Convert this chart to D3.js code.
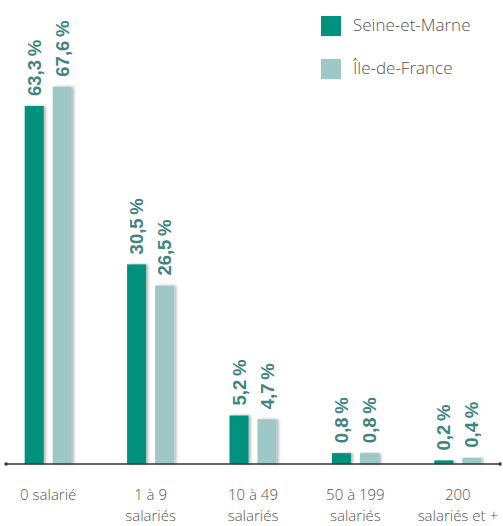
<!DOCTYPE html>
<html>
<head>
<meta charset="utf-8">
<script src="https://cdn.jsdelivr.net/npm/d3@7"></script>
<style>
  body { margin: 0; background: #fff; }
  svg { display: block; }
  .cat text, .key text { font-family: "Open Sans", Roboto, sans-serif; font-weight: 300; fill: #555; }
  .val { font-family: "Liberation Sans", Arial, sans-serif; font-weight: bold; fill: #3f8481; }
</style>
</head>
<body>
<div id="chart"></div>
<script>
const categories = [["0 salarié"], ["1 à 9", "salariés"], ["10 à 49", "salariés"], ["50 à 199", "salariés"], ["200", "salariés et +"]];
const series = ["Seine-et-Marne", "Île-de-France"];
const seineEtMarne = [63.3, 30.5, 5.2, 0.8, 0.2];
const ileDeFrance = [67.6, 26.5, 4.7, 0.8, 0.4];

const colors = ["#00917f", "#9dc8c5"];
const width = 503;
const height = 526;
const baseY = 464;

const svg = d3.select("#chart").append("svg")
  .attr("width", width)
  .attr("height", height);

// soft shadow on the right of each bar
const filter = svg.append("defs").append("filter")
  .attr("id", "shadow")
  .attr("x", "-30%").attr("y", "-10%")
  .attr("width", "160%").attr("height", "120%");
filter.append("feDropShadow")
  .attr("dx", 2).attr("dy", 0)
  .attr("stdDeviation", 1.6)
  .attr("flood-color", "#000")
  .attr("flood-opacity", 0.3);

const x0 = d3.scaleBand()
  .domain(d3.range(categories.length))
  .range([-3, 509]);

const x1 = d3.scaleBand()
  .domain(series)
  .range([-23.5, 23.5])
  .paddingInner(0.3214);

// bars in the original are not strictly proportional, a soft power scale fits better
const y = d3.scalePow().exponent(0.8)
  .domain([0, 70])
  .range([baseY, 76]);

const rows = categories.map((c, i) => ({
  i,
  values: [
    { key: series[0], value: seineEtMarne[i] },
    { key: series[1], value: ileDeFrance[i] }
  ]
}));

const groups = svg.append("g")
  .selectAll("g")
  .data(rows)
  .join("g")
  .attr("transform", d => `translate(${x0(d.i) + x0.bandwidth() / 2},0)`);

groups.selectAll("rect")
  .data(d => d.values)
  .join("rect")
  .attr("x", d => x1(d.key))
  .attr("y", d => y(d.value))
  .attr("width", x1.bandwidth())
  .attr("height", d => baseY - y(d.value))
  .attr("fill", (d, i) => colors[i])
  .attr("filter", "url(#shadow)");

// value labels, rotated to read bottom to top
groups.selectAll("g.lbl")
  .data(d => d.values)
  .join("g")
  .attr("class", "lbl")
  .attr("transform", d => `translate(${x1(d.key) + x1.bandwidth() / 2},${y(d.value) - 10})`)
  .append("text")
  .attr("class", "val")
  .attr("transform", "rotate(-90)")
  .attr("font-size", 18.5)
  .attr("dy", "0.36em")
  .text(d => d.value.toFixed(1).replace(".", ",") + "\u2009%");

// axis line
svg.append("line")
  .attr("x1", 6).attr("x2", 500)
  .attr("y1", baseY).attr("y2", baseY)
  .attr("stroke", "#333")
  .attr("stroke-width", 1.4);
[6, 500].forEach(px => {
  svg.append("rect")
    .attr("x", px - 1.5).attr("y", baseY - 1.5)
    .attr("width", 3).attr("height", 3)
    .attr("fill", "#333");
});

// category labels
const cat = svg.append("g").attr("class", "cat");
categories.forEach((lines, i) => {
  const t = cat.append("text")
    .attr("text-anchor", "middle")
    .attr("font-size", 15)
    .attr("transform", `translate(${x0(i) + x0.bandwidth() / 2},500)`);
  lines.forEach((l, j) => {
    t.append("tspan").attr("x", 0).attr("y", j * 20.5).text(l);
  });
});

// legend
const key = svg.append("g").attr("class", "key");
series.forEach((s, i) => {
  key.append("rect")
    .attr("x", 321).attr("y", 16 + i * 43)
    .attr("width", 20).attr("height", 20)
    .attr("fill", colors[i]);
  key.append("text")
    .attr("x", 353).attr("y", 31 + i * 43)
    .attr("font-size", 17)
    .text(s);
});
</script>
</body>
</html>
